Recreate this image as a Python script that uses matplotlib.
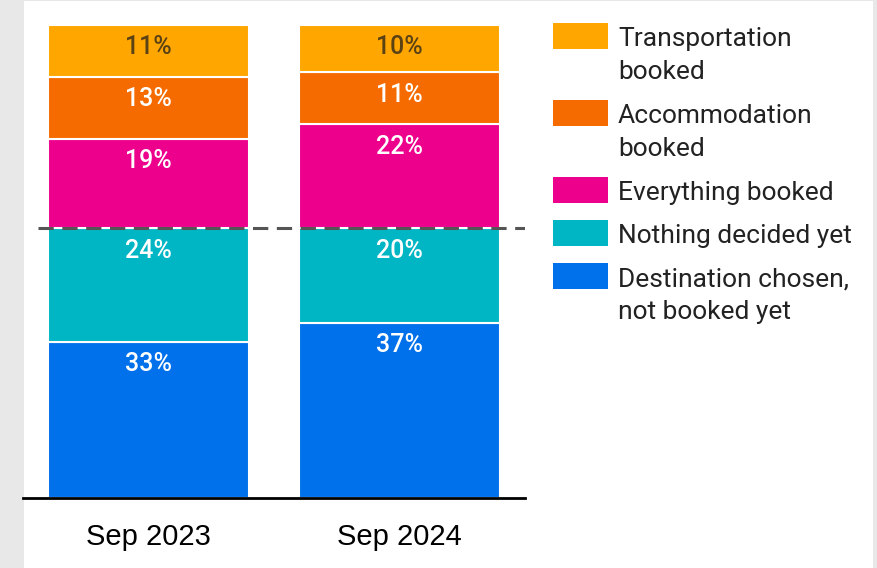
import numpy as np
import matplotlib.pyplot as plt
from matplotlib.patches import Rectangle

periods = ['Sep 2023', 'Sep 2024']
series = ['Destination chosen,\nnot booked yet', 'Nothing decided yet',
          'Everything booked', 'Accommodation\nbooked', 'Transportation\nbooked']
destination = [33, 37]
nothing = [24, 20]
everything = [19, 22]
accommodation = [13, 11]
transportation = [11, 10]
values = [destination, nothing, everything, accommodation, transportation]
colors = ['#0070eb', '#00b6c4', '#ec008c', '#f56b00', '#ffa600']
label_colors = ['white', 'white', 'white', 'white', '#5a4214']

fig = plt.figure(figsize=(8.77, 5.68), dpi=100)
fig.patch.set_facecolor('#e8e8e8')
fig.add_artist(Rectangle((24 / 877, 0), (873 - 24) / 877, 567 / 568,
                         transform=fig.transFigure, facecolor='white',
                         edgecolor='none', zorder=0))

ax = fig.add_axes([23 / 877, 70 / 568, (525 - 23) / 877, (498 - 25) / 568])
ax.set_facecolor('none')

x = np.arange(len(periods))
bottom = np.zeros(len(periods))
for vals, col, lc in zip(values, colors, label_colors):
    vals = np.array(vals)
    ax.bar(x, vals, 0.8, bottom=bottom, color=col, edgecolor='white', linewidth=1.5)
    for xi, b, v in zip(x, bottom, vals):
        ax.annotate(f'{v}%', (xi, b + v), xytext=(0, -16), textcoords='offset points',
                    ha='center', va='center', color=lc, fontsize=18,
                    family='Roboto', weight='medium')
    bottom = bottom + vals

# split between "undecided" and "booked" groups
split = destination[0] + nothing[0]
ax.axhline(split, xmin=0.03, xmax=1.0, color='#555555', lw=2.2, ls=(0, (5, 2.8)), zorder=5)

ax.set_xlim(-0.5, 1.5)
ax.set_ylim(0, 100)
ax.set_xticks(x)
ax.set_xticklabels(periods, family='Liberation Sans', fontsize=21)
ax.tick_params(axis='x', length=0, pad=18)
ax.set_yticks([])
for s in ['top', 'left', 'right']:
    ax.spines[s].set_visible(False)
ax.spines['bottom'].set_linewidth(2)

# legend drawn by hand so the swatch sits at the first text line
legend_rows = [23, 100, 177, 220, 263]
for row, lab, col in zip(legend_rows, series[::-1], colors[::-1]):
    fig.add_artist(Rectangle((553 / 877, 1 - (row + 26) / 568), 55 / 877, 26 / 568,
                             transform=fig.transFigure, facecolor=col, edgecolor='none'))
    fig.text(618 / 877, 1 - (row + 4) / 568, lab, ha='left', va='top', fontsize=19,
             family='Roboto', color='#222222', linespacing=1.47)

fig.savefig('out.png', dpi=100, facecolor=fig.get_facecolor())
